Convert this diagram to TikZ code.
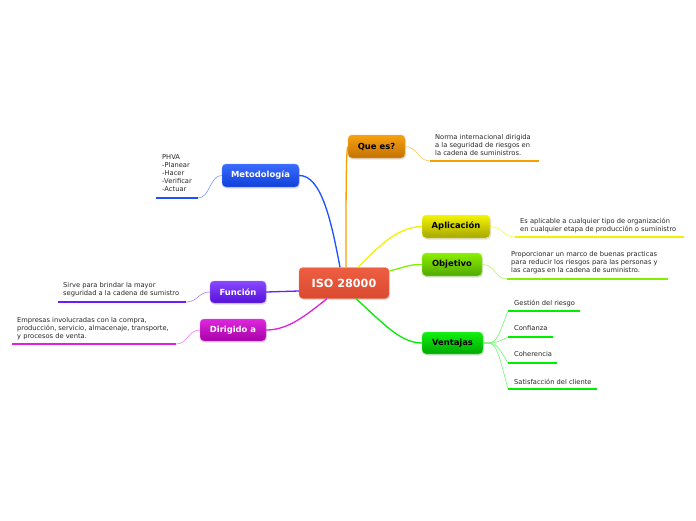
\documentclass[tikz,border=0pt]{standalone}
\usepackage{fontspec}
\setmainfont{DejaVu Sans}
\usetikzlibrary{shadows}
\definecolor{cOrange}{HTML}{F5A000}
\definecolor{cYellow}{HTML}{F2F200}
\definecolor{cLime}{HTML}{80F000}
\definecolor{cGreen}{HTML}{00EE00}
\definecolor{cBlue}{HTML}{1E50FF}
\definecolor{cPurple}{HTML}{6A1BFF}
\definecolor{cMag}{HTML}{E020E0}
% node colours
\definecolor{isoT}{HTML}{EE5E42}\definecolor{isoB}{HTML}{D94A30}\definecolor{isoD}{HTML}{F07A60}
\definecolor{queT}{HTML}{F7A010}\definecolor{queB}{HTML}{C47200}\definecolor{queD}{HTML}{F8B040}
\definecolor{aplT}{HTML}{F4F400}\definecolor{aplB}{HTML}{A6A600}\definecolor{aplD}{HTML}{F8F860}
\definecolor{objT}{HTML}{8CF000}\definecolor{objB}{HTML}{50A800}\definecolor{objD}{HTML}{A8F850}
\definecolor{venT}{HTML}{10F010}\definecolor{venB}{HTML}{00A800}\definecolor{venD}{HTML}{60F860}
\definecolor{metT}{HTML}{3A6CFF}\definecolor{metB}{HTML}{1040D8}\definecolor{metD}{HTML}{7090FF}
\definecolor{funT}{HTML}{8A48FF}\definecolor{funB}{HTML}{5510D8}\definecolor{funD}{HTML}{A070FF}
\definecolor{dirT}{HTML}{DD28DD}\definecolor{dirB}{HTML}{A600A6}\definecolor{dirD}{HTML}{E860E8}
\tikzset{
  topic/.style={rounded corners=4pt, inner sep=0pt, font=\fontsize{8.4}{9}\selectfont\bfseries,
     drop shadow={shadow xshift=1pt, shadow yshift=-1.5pt, opacity=0.25}},
  leaftext/.style={anchor=north west, inner sep=0pt, align=left, text=black!85,
     font=\fontsize{6.7}{8}\selectfont},
  main/.style={line width=1.3pt},
  thin/.style={line width=0.6pt},
  under/.style={line width=2.6pt},
}
\begin{document}
\begin{tikzpicture}[x=1pt,y=-1pt]
\useasboundingbox[fill=white] (0,0) rectangle (696,520);

% topic nodes
\node[topic, minimum width=90pt, minimum height=31pt, top color=isoT, bottom color=isoB, draw=isoD, text=white, font=\fontsize{11.2}{12}\selectfont\bfseries] (iso) at (344,283) {ISO 28000};
\node[topic, minimum width=57pt, minimum height=23pt, top color=queT, bottom color=queB, draw=queD] (que) at (376.5,146.5) {Que es?};
\node[topic, minimum width=68pt, minimum height=23pt, top color=aplT, bottom color=aplB, draw=aplD] (apl) at (456,226.5) {Aplicación};
\node[topic, minimum width=60pt, minimum height=23pt, top color=objT, bottom color=objB, draw=objD] (obj) at (452,264.5) {Objetivo};
\node[topic, minimum width=61pt, minimum height=22pt, top color=venT, bottom color=venB, draw=venD] (ven) at (452.5,343) {Ventajas};
\node[topic, minimum width=77pt, minimum height=23pt, top color=metT, bottom color=metB, draw=metD, text=white] (met) at (260.5,175.5) {Metodología};
\node[topic, minimum width=56pt, minimum height=22pt, top color=funT, bottom color=funB, draw=funD, text=white] (fun) at (238,292) {Función};
\node[topic, minimum width=66pt, minimum height=22pt, top color=dirT, bottom color=dirB, draw=dirD, text=white] (dir) at (233,330) {Dirigido a};

% main connectors
\draw[main, cOrange] ([xshift=2pt]iso.north) .. controls (346,200) and (346,150) .. (que.west);
\draw[main, cBlue] ([xshift=-4pt]iso.north) .. controls (332,225) and (322,175) .. (met.east);
\draw[main, cYellow] ([xshift=14pt]iso.north) .. controls (380,245) and (398,227) .. (apl.west);
\draw[main, cLime] ([yshift=12pt]iso.east) .. controls (402,268) and (410,264) .. (obj.west);
\draw[main, cGreen] ([xshift=12pt]iso.south) .. controls (382,322) and (400,343) .. (ven.west);
\draw[main, cPurple] ([yshift=-8pt]iso.west) -- (fun.east);
\draw[main, cMag] ([xshift=-17pt]iso.south) .. controls (305,316) and (288,330) .. (dir.east);

% leaf coordinates
\coordinate (q1) at (430,161); \coordinate (q2) at (539,161);
\coordinate (a1) at (515,237); \coordinate (a2) at (684,237);
\coordinate (o1) at (507,279); \coordinate (o2) at (668,279);
\coordinate (v1a) at (508,311); \coordinate (v1b) at (580,311);
\coordinate (v2a) at (508,337); \coordinate (v2b) at (553,337);
\coordinate (v3a) at (508,363); \coordinate (v3b) at (557,363);
\coordinate (v4a) at (508,389); \coordinate (v4b) at (597,389);
\coordinate (m1) at (198,198); \coordinate (m2) at (156,198);
\coordinate (f1) at (186,302); \coordinate (f2) at (58,302);
\coordinate (d1) at (176,344); \coordinate (d2) at (12,344);

% leaf connectors and underlines
\draw[thin, cOrange!60] (que.east) .. controls (418,147) and (418,161) .. (q1);
\draw[under, cOrange] (q1) -- (q2);
\draw[thin, cYellow!70] (apl.east) .. controls (503,227) and (503,237) .. (a1);
\draw[under, cYellow] (a1) -- (a2);
\draw[thin, cLime!60] (obj.east) .. controls (495,264) and (495,279) .. (o1);
\draw[under, cLime] (o1) -- (o2);
\foreach \a/\b in {v1a/v1b, v2a/v2b, v3a/v3b, v4a/v4b}{
  \draw[thin, cGreen!55] (ven.east) .. controls (496,343) and (496,343) .. (\a);
  \draw[under, cGreen] (\a) -- (\b);
}
\draw[thin, cBlue!60] (met.west) .. controls (210,175) and (210,198) .. (m1);
\draw[under, cBlue] (m1) -- (m2);
\draw[thin, cPurple!55] (fun.west) .. controls (198,292) and (198,302) .. (f1);
\draw[under, cPurple] (f1) -- (f2);
\draw[thin, cMag!55] (dir.west) .. controls (188,330) and (188,344) .. (d1);
\draw[under, cMag] (d1) -- (d2);

% leaf texts
\node[leaftext] (tq) at (435,134.5) {Norma internacional dirigida\\a la seguridad de riesgos en\\la cadena de suministros.};
\node[leaftext] (ta) at (520,217.5) {Es aplicable a cualquier tipo de organización\\en cualquier etapa de producción o suministro};
\node[leaftext] (to) at (511,251.5) {Proporcionar un marco de buenas practicas\\para reducir los riesgos para las personas y\\las cargas en la cadena de suministro.};
\node[leaftext] (tv1) at (514,299.5) {Gestión del riesgo};
\node[leaftext] (tv2) at (514,325.5) {Confianza};
\node[leaftext] (tv3) at (514,351.5) {Coherencia};
\node[leaftext] (tv4) at (514,378.5) {Satisfacción del cliente};
\node[leaftext] (tm) at (162,154.5) {PHVA\\-Planear\\-Hacer\\-Verificar\\-Actuar};
\node[leaftext] (tf) at (63,282.5) {Sirve para brindar la mayor\\seguridad a la cadena de sumistro};
\node[leaftext] (td) at (17,317.5) {Empresas involucradas con la compra,\\producción, servicio, almacenaje, transporte,\\y procesos de venta.};
\end{tikzpicture}
\end{document}
